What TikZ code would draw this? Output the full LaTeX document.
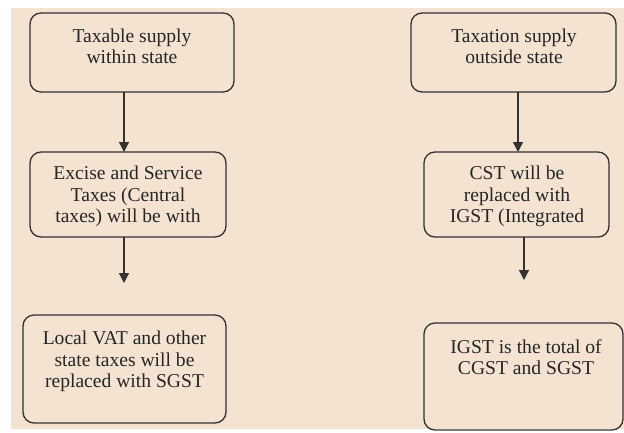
\documentclass[tikz,border=0pt]{standalone}
\usepackage{fontspec}
\setmainfont{Liberation Serif}
\usetikzlibrary{arrows.meta}
\definecolor{paper}{RGB}{244,227,209}
\definecolor{ink}{RGB}{50,50,50}
\tikzset{
  stepbox/.style={draw=ink, line width=1.3pt, rounded corners=11pt,
    inner sep=0pt, outer sep=0pt},
  boxtext/.style={align=center, inner sep=0pt, text=black!85,
    font=\fontsize{19.6}{21.5}\selectfont},
  flow/.style={draw=ink, line width=1.3pt, -{Triangle[width=10pt,length=10pt]}}
}

\begin{document}
\begin{tikzpicture}[x=1pt, y=-1pt]
\useasboundingbox (0,0) rectangle (624,432);
\fill[paper] (11,8) rectangle (624,429);

%left column: supply within state
\node[stepbox, minimum width=204pt, minimum height=79pt] (b1) at (132,52.5) {};
\node[stepbox, minimum width=196pt, minimum height=85pt] (b2) at (128,194.5) {};
\node[stepbox, minimum width=203pt, minimum height=108pt] (b3) at (124.5,369) {};
\node[boxtext] (t1) at (132,46.5) {Taxable supply\\within state};
\node[boxtext] (t2) at (128,196.5) {Excise and Service\\Taxes (Central\\taxes) will be with};
\node[boxtext] (t3) at (124.5,361.5) {Local VAT and other\\state taxes will be\\replaced with SGST};

%right column: supply outside state
\node[stepbox, minimum width=205pt, minimum height=79pt] (bA) at (513.5,52.5) {};
\node[stepbox, minimum width=185pt, minimum height=85pt] (bB) at (516.5,194.5) {};
\node[stepbox, minimum width=199pt, minimum height=107pt] (bC) at (523.5,376.5) {};
\node[boxtext] (tA) at (514,46.5) {Taxation supply\\outside state};
\node[boxtext] (tB) at (517,196.5) {CST will be\\replaced with\\IGST (Integrated};
\node[boxtext] (tC) at (526,357) {IGST is the total of\\CGST and SGST};

%loose arrow ends
\coordinate (e1) at (124,283);
\coordinate (e2) at (524,280);

\draw[flow] ([xshift=-8pt]b1.south) -- ([xshift=-4pt]b2.north);
\draw[flow] ([xshift=-4pt]b2.south) -- (e1);
\draw[flow] ([xshift=4.5pt]bA.south) -- ([xshift=1.5pt]bB.north);
\draw[flow] ([xshift=7.5pt]bB.south) -- (e2);
\end{tikzpicture}
\end{document}
